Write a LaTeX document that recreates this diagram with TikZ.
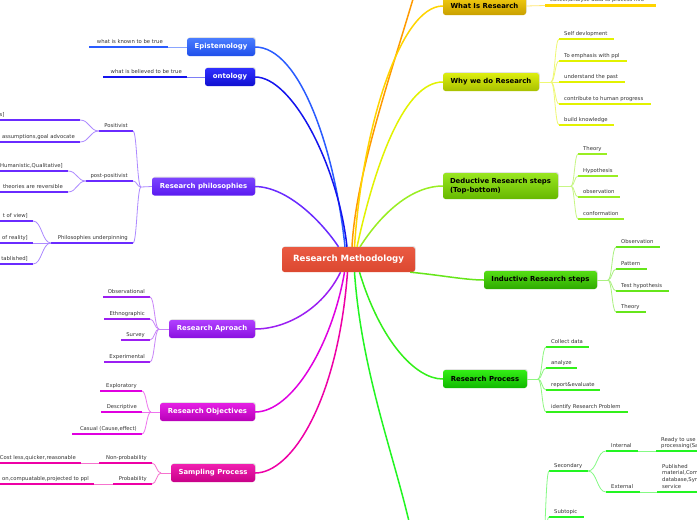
\documentclass[tikz,border=0pt]{standalone}
\usepackage{fontspec}
\setmainfont{DejaVu Sans}
\usetikzlibrary{calc,shadows}
\definecolor{EpiC}{HTML}{2A5CFF}
\definecolor{OntC}{HTML}{1414EE}
\definecolor{PhilC}{HTML}{6A2BFF}
\definecolor{ApprC}{HTML}{9B1FF2}
\definecolor{ObjC}{HTML}{E000E0}
\definecolor{SampC}{HTML}{EE00A6}
\definecolor{WhatC}{HTML}{FFD400}
\definecolor{OrC}{HTML}{FF9A00}
\definecolor{WhyC}{HTML}{E2F200}
\definecolor{DedC}{HTML}{99EE22}
\definecolor{IndC}{HTML}{66E61A}
\definecolor{ProcC}{HTML}{33F01A}
\definecolor{BotC}{HTML}{22F522}
\definecolor{txt}{HTML}{333333}
\newcommand\leaffont{\fontsize{5.3}{6.7}\selectfont}
\newcommand\boxfont{\fontsize{6.9}{8.2}\selectfont\bfseries}
\tikzset{
  leaf/.style={font=\leaffont, text=txt, inner sep=0},
  ul/.style={draw=#1, line width=2.2},
  subc/.style={draw=#1!55, line width=0.8},
  mainc/.style={draw=#1, line width=1.5},
  mmbox/.style={rounded corners=2.5, minimum height=18, inner xsep=3, font=\boxfont,
    drop shadow={opacity=0.22, shadow xshift=0.8, shadow yshift=-0.9}},
}
% right-growing leaf: name, x-left, y, length, colour, text
\newcommand\mmR[6]{%
  \node[leaf, anchor=base west] (#1) at (#2+5,#3-3.6) {#6};
  \coordinate (#1-w) at (#2,#3);
  \coordinate (#1-e) at (#2+#4,#3);
  \draw[ul=#5] (#1-w) -- (#1-e);
}
% left-growing leaf: name, x-right, y, length, colour, text
\newcommand\mmL[6]{%
  \node[leaf, anchor=base east] (#1) at (#2-5,#3-3.6) {#6};
  \coordinate (#1-e) at (#2,#3);
  \coordinate (#1-w) at (#2-#4,#3);
  \draw[ul=#5] (#1-w) -- (#1-e);
}
\newcommand\mmcurve[3]{%
  \draw[subc=#3] let \p1=(#1), \p2=(#2) in
    (\p1) .. controls ({(\x1+\x2)/2},\y1) and ({(\x1+\x2)/2},\y2) .. (\p2);
}
\begin{document}
\begin{tikzpicture}[x=1pt,y=-1pt]
\useasboundingbox (0,0) rectangle (697,520);
\fill[white] (0,0) rectangle (697,520);
\clip (0,0) rectangle (697,520);

% ---------- boxes ----------
\node[mmbox, minimum width=133, minimum height=25, top color={rgb,255:red,234;green,90;blue,66}, bottom color={rgb,255:red,220;green,72;blue,48}, text=white, font=\fontsize{8.6}{10}\selectfont\bfseries] (rm) at (348.5,259.5) {Research Methodology};

\node[mmbox, minimum width=68, top color={rgb,255:red,74;green,125;blue,255}, bottom color={rgb,255:red,31;green,79;blue,234}, text=white] (epi) at (221,47) {Epistemology};
\node[mmbox, minimum width=50, top color={rgb,255:red,48;green,48;blue,255}, bottom color={rgb,255:red,16;green,16;blue,208}, text=white] (ont) at (230,77) {ontology};
\node[mmbox, minimum width=103, top color={rgb,255:red,125;green,69;blue,255}, bottom color={rgb,255:red,90;green,26;blue,240}, text=white] (phil) at (203.5,186.5) {Research philosophies};
\node[mmbox, minimum width=86, top color={rgb,255:red,176;green,64;blue,255}, bottom color={rgb,255:red,138;green,16;blue,224}, text=white] (appr) at (212,329) {Research Aproach};
\node[mmbox, minimum width=95, top color={rgb,255:red,228;green,32;blue,228}, bottom color={rgb,255:red,184;green,0;blue,184}, text=white] (obj) at (207.5,412) {Research Objectives};
\node[mmbox, minimum width=84, top color={rgb,255:red,240;green,32;blue,176}, bottom color={rgb,255:red,200;green,0;blue,136}, text=white] (samp) at (213,473) {Sampling Process};

\node[mmbox, minimum width=83, top color={rgb,255:red,242;green,204;blue,16}, bottom color={rgb,255:red,201;green,160;blue,0}, text=black] (what) at (484.5,6) {What Is Research};
\node[mmbox, minimum width=96, top color={rgb,255:red,221;green,238;blue,16}, bottom color={rgb,255:red,168;green,192;blue,0}, text=black] (why) at (491,82) {Why we do Research};
\node[mmbox, minimum width=115, minimum height=26, align=left, top color={rgb,255:red,153;green,230;blue,32}, bottom color={rgb,255:red,102;green,184;blue,0}, text=black] (ded) at (500.5,186) {Deductive Research steps\\(Top-bottom)};
\node[mmbox, minimum width=113, top color={rgb,255:red,85;green,221;blue,21}, bottom color={rgb,255:red,46;green,170;blue,0}, text=black] (ind) at (540.5,280) {Inductive Research steps};
\node[mmbox, minimum width=84, top color={rgb,255:red,51;green,238;blue,21}, bottom color={rgb,255:red,16;green,184;blue,0}, text=black] (proc) at (485,379) {Research Process};

% ---------- main connectors ----------
\coordinate (topoff) at (420,-25);
\coordinate (botoff) at (414,545);
\draw[mainc=OrC] ($(rm.north)+(3.5,0)$) .. controls (356,170) and (396,60) .. (topoff);
\draw[mainc=WhatC] ($(rm.north)+(6,0)$) .. controls (362,130) and (400,6) .. (what.west);
\draw[mainc=WhyC] ($(rm.north)+(8.5,0)$) .. controls (376,160) and (405,82) .. (why.west);
\draw[mainc=DedC] ($(rm.north)+(11.5,0)$) .. controls (385,208) and (415,186) .. (ded.west);
\draw[mainc=IndC] ($(rm.south east)+(-5,0)$) .. controls (440,275) and (465,280) .. (ind.west);
\draw[mainc=ProcC] ($(rm.south)+(11,0)$) .. controls (380,340) and (415,379) .. (proc.west);
\draw[mainc=BotC] ($(rm.south)+(6,0)$) .. controls (362,380) and (400,470) .. (botoff);
\draw[mainc=EpiC] ($(rm.north)+(-3.5,0)$) .. controls (335,150) and (300,47) .. (epi.east);
\draw[mainc=OntC] ($(rm.north)+(-1.5,0)$) .. controls (338,165) and (292,77) .. (ont.east);
\draw[mainc=PhilC] ($(rm.north)+(-10,0)$) .. controls (322,222) and (288,187) .. (phil.east);
\draw[mainc=ApprC] ($(rm.south)+(-8,0)$) .. controls (322,310) and (285,329) .. (appr.east);
\draw[mainc=ObjC] ($(rm.south)+(-4,0)$) .. controls (332,345) and (292,412) .. (obj.east);
\draw[mainc=SampC] ($(rm.south)+(-1,0)$) .. controls (338,400) and (292,473) .. (samp.east);

% ---------- Epistemology / ontology ----------
\mmL{epl}{168}{47}{79}{EpiC}{what is known to be true}
\draw[subc=EpiC] (epl-e) -- (epi.west);
\mmL{onl}{187}{77}{84}{OntC}{what is believed to be true}
\draw[subc=OntC] (onl-e) -- (ont.west);

% ---------- Research philosophies ----------
\coordinate (philj) at (141,187);
\draw[subc=PhilC] (phil.west) -- (philj);
\mmL{pos}{133}{131}{34}{PhilC}{Positivist}
\mmL{ppos}{133}{181}{47}{PhilC}{post-positivist}
\mmL{pund}{133}{243}{82}{PhilC}{Philosophies underpinning}
\mmcurve{philj}{pos-e}{PhilC}
\mmcurve{philj}{ppos-e}{PhilC}
\mmcurve{philj}{pund-e}{PhilC}
\node[leaf, anchor=base west] (pos1) at (-0.5,116.4) {s]};
\coordinate (pos1-e) at (80,120);
\coordinate (pos1-w) at (-20,120);
\draw[ul=PhilC] (pos1-w) -- (pos1-e);
\mmL{pos2}{80}{142}{100}{PhilC}{assumptions,goal advocate}
\mmcurve{pos-w}{pos1-e}{PhilC}
\mmcurve{pos-w}{pos2-e}{PhilC}
\mmL{pp1}{68}{171}{100}{PhilC}{Humanistic,Qualitative]}
\mmL{pp2}{68}{192}{100}{PhilC}{theories are reversible}
\mmcurve{ppos-w}{pp1-e}{PhilC}
\mmcurve{ppos-w}{pp2-e}{PhilC}
\mmL{pu1}{33}{221}{60}{PhilC}{t of view]}
\mmL{pu2}{33}{243}{60}{PhilC}{of reality]}
\mmL{pu3}{33}{264}{60}{PhilC}{tablished]}
\mmcurve{pund-w}{pu1-e}{PhilC}
\mmcurve{pund-w}{pu2-e}{PhilC}
\mmcurve{pund-w}{pu3-e}{PhilC}

% ---------- Research Aproach ----------
\coordinate (apprj) at (159,329);
\draw[subc=ApprC] (appr.west) -- (apprj);
\mmL{ob}{150}{297}{47}{ApprC}{Observational}
\mmL{eth}{150}{319}{46}{ApprC}{Ethnographic}
\mmL{sur}{150}{340}{29}{ApprC}{Survey}
\mmL{expm}{150}{362}{46}{ApprC}{Experimental}
\mmcurve{apprj}{ob-e}{ApprC}
\mmcurve{apprj}{eth-e}{ApprC}
\mmcurve{apprj}{sur-e}{ApprC}
\mmcurve{apprj}{expm-e}{ApprC}

% ---------- Research Objectives ----------
\coordinate (objj) at (151,412);
\draw[subc=ObjC] (obj.west) -- (objj);
\mmL{expl}{142}{391}{42}{ObjC}{Exploratory}
\mmL{desc}{142}{412}{41}{ObjC}{Descriptive}
\mmL{cas}{142}{434}{70}{ObjC}{Casual (Cause,effect)}
\mmcurve{objj}{expl-e}{ObjC}
\mmcurve{objj}{desc-e}{ObjC}
\mmcurve{objj}{cas-e}{ObjC}

% ---------- Sampling Process ----------
\coordinate (sampj) at (161,473);
\draw[subc=SampC] (samp.west) -- (sampj);
\mmL{np}{152}{463}{53}{SampC}{Non-probability}
\mmL{pr}{152}{484}{39}{SampC}{Probability}
\mmcurve{sampj}{np-e}{SampC}
\mmcurve{sampj}{pr-e}{SampC}
\mmL{np1}{81}{463}{100}{SampC}{Cost less,quicker,reasonable}
\draw[subc=SampC] (np1-e) -- (np-w);
\mmL{pr1}{94}{484}{110}{SampC}{on,compuatable,projected to ppl}
\draw[subc=SampC] (pr1-e) -- (pr-w);

% ---------- What Is Research ----------
\mmR{wl}{545}{5.5}{111}{WhatC}{collect,analyse data to process info}
\draw[subc=WhatC] (what.east) -- (wl-w);

% ---------- Why we do Research ----------
\coordinate (whyj) at (551,82);
\draw[subc=WhyC] (why.east) -- (whyj);
\mmR{w1}{559}{39}{55}{WhyC}{Self devlopment}
\mmR{w2}{559}{61}{68}{WhyC}{To emphasis with ppl}
\mmR{w3}{559}{82}{66}{WhyC}{understand the past}
\mmR{w4}{559}{104}{92}{WhyC}{contribute to human progress}
\mmR{w5}{559}{125}{55}{WhyC}{build knowledge}
\mmcurve{whyj}{w1-w}{WhyC}
\mmcurve{whyj}{w2-w}{WhyC}
\mmcurve{whyj}{w3-w}{WhyC}
\mmcurve{whyj}{w4-w}{WhyC}
\mmcurve{whyj}{w5-w}{WhyC}

% ---------- Deductive ----------
\coordinate (dedj) at (571,186);
\draw[subc=DedC] (ded.east) -- (dedj);
\mmR{d1}{578}{154}{29}{DedC}{Theory}
\mmR{d2}{578}{176}{40}{DedC}{Hypothesis}
\mmR{d3}{578}{197}{42}{DedC}{observation}
\mmR{d4}{578}{219}{46}{DedC}{conformation}
\mmcurve{dedj}{d1-w}{DedC}
\mmcurve{dedj}{d2-w}{DedC}
\mmcurve{dedj}{d3-w}{DedC}
\mmcurve{dedj}{d4-w}{DedC}

% ---------- Inductive ----------
\coordinate (indj) at (608,280);
\draw[subc=IndC] (ind.east) -- (indj);
\mmR{i1}{616}{247}{44}{IndC}{Observation}
\mmR{i2}{616}{269}{31}{IndC}{Pattern}
\mmR{i3}{616}{291}{53}{IndC}{Test hypothesis}
\mmR{i4}{616}{312}{30}{IndC}{Theory}
\mmcurve{indj}{i1-w}{IndC}
\mmcurve{indj}{i2-w}{IndC}
\mmcurve{indj}{i3-w}{IndC}
\mmcurve{indj}{i4-w}{IndC}

% ---------- Research Process ----------
\coordinate (procj) at (538,379);
\draw[subc=ProcC] (proc.east) -- (procj);
\mmR{p1}{546}{347}{43}{ProcC}{Collect data}
\mmR{p2}{546}{368}{31}{ProcC}{analyze}
\mmR{p3}{546}{390}{54}{ProcC}{report\&evaluate}
\mmR{p4}{546}{412}{82}{ProcC}{identify Research Problem}
\mmcurve{procj}{p1-w}{ProcC}
\mmcurve{procj}{p2-w}{ProcC}
\mmcurve{procj}{p3-w}{ProcC}
\mmcurve{procj}{p4-w}{ProcC}

% ---------- bottom branch ----------
\coordinate (secp) at (541,580);
\mmR{sec}{549}{471}{39}{BotC}{Secondary}
\mmR{stp}{549}{517}{35}{BotC}{Subtopic}
\mmcurve{secp}{sec-w}{BotC}
\mmcurve{secp}{stp-w}{BotC}
\mmR{int}{606}{451}{32}{BotC}{Internal}
\mmR{ext}{606}{492}{34}{BotC}{External}
\mmcurve{sec-e}{int-w}{BotC}
\mmcurve{sec-e}{ext-w}{BotC}
\node[leaf, anchor=south west, align=left] (intc) at (661,449.2) {Ready to use\\processing(Sales};
\coordinate (intc-w) at (656,451);
\coordinate (intc-e) at (710,451);
\draw[ul=BotC] (intc-w) -- (intc-e);
\draw[subc=BotC] (int-e) -- (intc-w);
\node[leaf, anchor=south west, align=left] (extc) at (662,488.6) {Published\\material,Company\\database,Syndicated\\service};
\coordinate (extc-w) at (657,492);
\coordinate (extc-e) at (710,492);
\draw[ul=BotC] (extc-w) -- (extc-e);
\draw[subc=BotC] (ext-e) -- (extc-w);
\end{tikzpicture}
\end{document}
